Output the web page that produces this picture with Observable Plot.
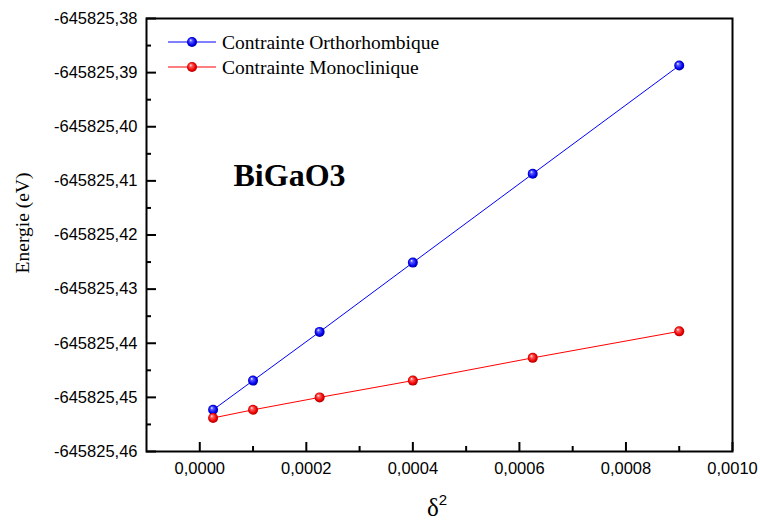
<!DOCTYPE html>
<html><head><meta charset="utf-8">
<script src="https://cdn.jsdelivr.net/npm/d3@7"></script>
<script src="https://cdn.jsdelivr.net/npm/@observablehq/plot@0.6"></script>
<style>
body{margin:0;background:#fff}
#chart{position:relative;width:760px;height:524px}
</style>
</head><body><div id="chart"></div>
<script>
const delta2 = [0.000025, 0.0001, 0.000225, 0.0004, 0.000625, 0.0009];
const energieOrtho = [-645825.4523, -645825.4469, -645825.4379, -645825.4251, -645825.4087, -645825.3887];
const energieMono = [-645825.4538, -645825.4523, -645825.4500, -645825.4469, -645825.4427, -645825.4378];
const seriesNames = ["Contrainte Orthorhombique", "Contrainte Monoclinique"];
const seriesColors = ["#0000ff", "#ff0000"];
const xTicks = [0, 0.0002, 0.0004, 0.0006, 0.0008, 0.0010];
const xMinorTicks = [0.0001, 0.0003, 0.0005, 0.0007, 0.0009];
const yTicks = [-645825.46, -645825.45, -645825.44, -645825.43, -645825.42, -645825.41, -645825.40, -645825.39, -645825.38];
const yMinorTicks = [-645825.455, -645825.445, -645825.435, -645825.425, -645825.415, -645825.405, -645825.395, -645825.385];
const xDomain = [-0.0001, 0.0010];
const yDomain = [-645825.46, -645825.38];
const compoundLabel = "BiGaO3";
const yLabel = "Energie (eV)";

const rows = [];
[energieOrtho, energieMono].forEach((vals, si) => {
  vals.forEach((v, i) => rows.push({x: delta2[i], y: v, s: seriesNames[si]}));
});

const fmtX = d => d.toFixed(4).replace(".", ",");
const fmtY = d => d.toFixed(2).replace(".", ",");

const plot = Plot.plot({
  width: 760,
  height: 524,
  marginLeft: 146,
  marginRight: 28,
  marginTop: 18,
  marginBottom: 73,
  style: {fontFamily: "'Liberation Sans', Arial, sans-serif", fontSize: "16.5px", color: "black", background: "white"},
  x: {domain: xDomain, label: null},
  y: {domain: yDomain, label: null},
  color: {domain: seriesNames, range: seriesColors},
  marks: [
    Plot.axisX({ticks: xMinorTicks, tickSize: -5, tickFormat: () => "", strokeWidth: 2}),
    Plot.axisY({ticks: yMinorTicks, tickSize: -5, tickFormat: () => "", strokeWidth: 2}),
    Plot.axisX({ticks: xTicks, tickSize: -9, tickPadding: 20, tickFormat: fmtX, strokeWidth: 2}),
    Plot.axisY({ticks: yTicks, tickSize: -10, tickPadding: 19, tickFormat: fmtY, strokeWidth: 2}),
    Plot.frame({stroke: "black", strokeWidth: 2}),
    Plot.line(rows, {x: "x", y: "y", z: "s", stroke: "s", strokeWidth: 1}),
    Plot.dot(rows.filter(d => d.s === seriesNames[0]), {x: "x", y: "y", r: 5, fill: "url(#sphere0)", stroke: "none"}),
    Plot.dot(rows.filter(d => d.s === seriesNames[1]), {x: "x", y: "y", r: 5, fill: "url(#sphere1)", stroke: "none"}),
    Plot.text([compoundLabel], {text: d => d, frameAnchor: "top-left", dx: 87, dy: 157, textAnchor: "start", lineAnchor: "middle", fontFamily: "'Liberation Serif', 'Times New Roman', serif", fontSize: 32, fontWeight: "bold", fill: "black"}),
    Plot.text([yLabel], {text: d => d, frameAnchor: "left", dx: -124, dy: -12, rotate: -90, textAnchor: "middle", lineAnchor: "middle", fontFamily: "'Liberation Serif', 'Times New Roman', serif", fontSize: 19.5, fill: "black"})
  ]
});

document.getElementById("chart").appendChild(plot);
const svg = d3.select(plot);
const defs = svg.insert("defs", ":first-child");
const grads = [["#ffffff", "#5a5aff", "#0000f0", "#000080"], ["#ffffff", "#ff6060", "#f00000", "#900000"]];
grads.forEach((g, i) => {
  const rg = defs.append("radialGradient").attr("id", "sphere" + i)
    .attr("cx", "50%").attr("cy", "50%").attr("r", "55%").attr("fx", "35%").attr("fy", "30%");
  rg.append("stop").attr("offset", "0%").attr("stop-color", g[0]);
  rg.append("stop").attr("offset", "25%").attr("stop-color", g[1]);
  rg.append("stop").attr("offset", "70%").attr("stop-color", g[2]);
  rg.append("stop").attr("offset", "100%").attr("stop-color", g[3]);
});

// legend
const leg = svg.append("g").attr("transform", "translate(168,42)").attr("text-anchor", "start");
seriesNames.forEach((name, i) => {
  const g = leg.append("g").attr("transform", `translate(0,${i * 25})`);
  g.append("line").attr("x1", 0).attr("x2", 48).attr("y1", 0).attr("y2", 0).attr("stroke", seriesColors[i]).attr("stroke-width", 1);
  g.append("circle").attr("cx", 24).attr("cy", 0).attr("r", 5).attr("fill", `url(#sphere${i})`);
  g.append("text").attr("x", 54).attr("y", 0).attr("dy", "0.35em").attr("text-anchor", "start")
    .attr("font-family", "'Liberation Serif', 'Times New Roman', serif").attr("font-size", 19.5)
    .attr("fill", "black").text(name);
});

// x label
const xl = svg.append("text").attr("x", 437).attr("y", 516).attr("text-anchor", "middle").attr("fill", "black");
xl.append("tspan").attr("font-family", "'Liberation Serif', 'Times New Roman', serif").attr("font-size", 25).text("δ");
xl.append("tspan").attr("font-family", "'Liberation Sans', Arial, sans-serif").attr("font-size", 15).attr("dy", -11).text("2");
</script>
</body></html>
